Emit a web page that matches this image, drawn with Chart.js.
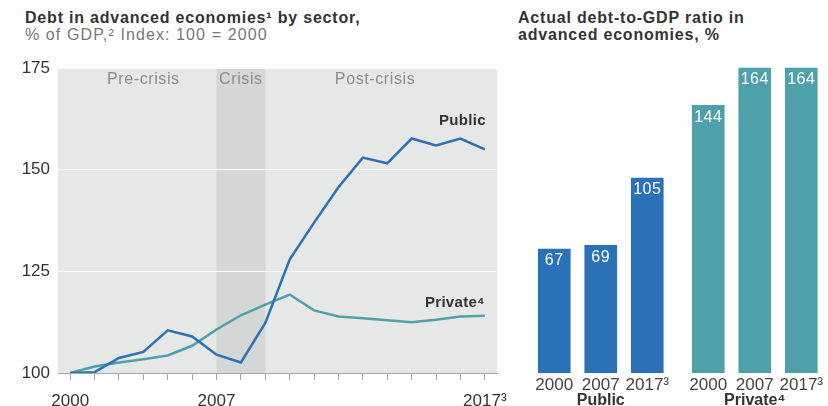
<!DOCTYPE html>
<html>
<head>
<meta charset="utf-8">
<script src="https://cdn.jsdelivr.net/npm/chart.js@4/dist/chart.umd.min.js"></script>
<style>
  html, body { margin: 0; padding: 0; background: #fff; width: 828px; height: 406px; overflow: hidden; }
  body { position: relative; font-family: "Liberation Sans", Arial, sans-serif; }
  .title { position: absolute; font-size: 16px; line-height: 17px; color: #333; letter-spacing: 0.8px; }
  .title b { font-weight: bold; }
  .title .sub { color: #777; letter-spacing: 1.1px; }
  canvas { position: absolute; }
</style>
</head>
<body>
<div class="title" style="left:25px; top:9px;"><b>Debt in advanced economies¹ by sector,</b><br><span class="sub">% of GDP,² Index: 100 = 2000</span></div>
<div class="title" style="left:518px; top:9px;"><b>Actual debt-to-GDP ratio in<br>advanced economies, %</b></div>

<canvas id="lineChart" width="508" height="358" style="left:0; top:50px;"></canvas>
<canvas id="publicBars" width="140" height="360" style="left:531px; top:50px;"></canvas>
<canvas id="privateBars" width="140" height="360" style="left:685px; top:50px;"></canvas>

<script>
// index, 100 = 2000 (one point per yearly tick, 18 ticks)
const years = ['2000', '2001', '2002', '2003', '2004', '2005', '2006', '2007', '2008',
  '2009', '2010', '2011', '2012', '2013', '2014', '2015', '2016', '2017'];
// labels as they sit on the reference ticks
const xTickLabels = ['2000', '', '', '', '', '', '2007', '', '', '', '', '', '', '', '', '', '', '2017³'];
const publicIndex = [100, 100.2, 103.7, 105.2, 110.5, 109, 104.5, 102.6, 112.3,
  127.9, 137, 145.7, 153, 151.6, 157.7, 156, 157.7, 155];
const privateIndex = [100, 101.6, 102.6, 103.4, 104.3, 106.7, 110.7, 114.2, 116.8,
  119.3, 115.4, 113.9, 113.5, 113, 112.5, 113.1, 113.9, 114.1];
const yTicks = [100, 125, 150, 175];

// periods shaded / labelled on the line chart, as tick indexes
const periods = [
  { label: 'Pre-crisis', from: 0, to: 6, shade: false },
  { label: 'Crisis', from: 6, to: 8, shade: true },
  { label: 'Post-crisis', from: 8, to: 17, shade: false },
];

// actual debt-to-GDP, %
const barYears = ['2000', '2007', '2017³'];
const publicDebt = [67, 69, 105];
const privateDebt = [144, 164, 164];

const BLUE = '#2b71b8';
const TEAL = '#4ea1ab';
const FONT = '"Liberation Sans", Arial, sans-serif';

const backdrop = {
  id: 'backdrop',
  beforeDraw(chart) {
    const { ctx, chartArea: a, scales: { x } } = chart;
    ctx.save();
    ctx.fillStyle = '#e6e7e7';
    ctx.fillRect(a.left, a.top, a.right - a.left, a.bottom - a.top);
    ctx.fillStyle = '#d5d6d6';
    periods.filter(p => p.shade).forEach(p => {
      const x0 = x.getPixelForValue(p.from);
      const x1 = x.getPixelForValue(p.to);
      ctx.fillRect(x0, a.top, x1 - x0, a.bottom - a.top);
    });
    ctx.restore();
  },
  afterDraw(chart) {
    const { ctx, chartArea: a, scales: { x } } = chart;
    ctx.save();
    ctx.font = '16px ' + FONT;
    ctx.letterSpacing = '0.6px';
    ctx.fillStyle = '#8c8d8d';
    ctx.textAlign = 'center';
    ctx.textBaseline = 'middle';
    periods.forEach(p => {
      const x0 = x.getPixelForValue(p.from);
      const x1 = x.getPixelForValue(p.to);
      ctx.fillText(p.label, (x0 + x1) / 2, a.top + 11);
    });
    // series names next to last points
    ctx.font = 'bold 15px ' + FONT;
    ctx.letterSpacing = '0.3px';
    ctx.fillStyle = '#333';
    ctx.textAlign = 'right';
    const pub = chart.getDatasetMeta(0).data.at(-1);
    const prv = chart.getDatasetMeta(1).data.at(-1);
    ctx.fillText('Public', pub.x + 1, pub.y - 29);
    ctx.fillText('Private⁴', prv.x, prv.y - 13);
    ctx.restore();
  }
};

new Chart(document.getElementById('lineChart'), {
  type: 'line',
  data: {
    labels: years,
    datasets: [
      { label: 'Public', data: publicIndex, borderColor: BLUE, borderWidth: 2.5, pointRadius: 0, tension: 0 },
      { label: 'Private', data: privateIndex, borderColor: TEAL, borderWidth: 2.5, pointRadius: 0, tension: 0 },
    ],
  },
  options: {
    responsive: false,
    animation: false,
    layout: { padding: { top: 17, right: 11, left: 0, bottom: 0 } },
    plugins: { legend: { display: false }, tooltip: { enabled: false } },
    scales: {
      x: {
        type: 'category',
        offset: true,
        afterFit: s => { s.height = 35; s.paddingLeft = 0; s.paddingRight = 0; },
        border: { color: '#a4a5a5', width: 1 },
        grid: { display: true, drawOnChartArea: false, tickLength: 7, color: '#a4a5a5', offset: false },
        ticks: {
          autoSkip: false, maxRotation: 0, padding: 11, color: '#333',
          font: { family: FONT, size: 17 },
          callback: (v, i) => xTickLabels[i],
        },
      },
      y: {
        min: yTicks[0],
        max: yTicks[yTicks.length - 1],
        afterFit: s => { s.width = 58; },
        afterBuildTicks: s => { s.ticks = yTicks.map(v => ({ value: v })); },
        border: { display: false },
        grid: { color: '#fafafa', lineWidth: 1, drawTicks: false },
        ticks: { padding: 8, color: '#333', font: { family: FONT, size: 17 } },
      },
    },
  },
  plugins: [backdrop],
});

const barLabels = {
  id: 'barLabels',
  afterDatasetsDraw(chart) {
    const { ctx } = chart;
    ctx.save();
    ctx.font = '16px ' + FONT;
    ctx.letterSpacing = '0.5px';
    ctx.fillStyle = '#fff';
    ctx.textAlign = 'center';
    ctx.textBaseline = 'middle';
    const ds = chart.data.datasets[0];
    chart.getDatasetMeta(0).data.forEach((bar, i) => {
      ctx.fillText(ds.data[i], bar.x, bar.y + 13);
    });
    ctx.restore();
  }
};

function barChart(id, values, color, groupTitle) {
  return new Chart(document.getElementById(id), {
    type: 'bar',
    data: {
      labels: barYears,
      datasets: [{ data: values, backgroundColor: color, borderColor: 'rgba(255,255,255,0.35)', borderWidth: 1, barThickness: 34 }],
    },
    options: {
      responsive: false,
      animation: false,
      layout: { padding: { top: 17, left: 0, right: 0, bottom: 0 } },
      plugins: { legend: { display: false }, tooltip: { enabled: false } },
      scales: {
        x: {
          afterFit: s => { s.height = 37; },
          border: { display: false },
          grid: { display: false, drawTicks: false },
          ticks: { padding: 2, color: '#444', font: { family: FONT, size: 17 }, maxRotation: 0, autoSkip: false },
          title: { display: true, text: groupTitle, color: '#333', font: { family: FONT, size: 16, weight: 'bold' }, padding: 0 },
        },
        y: {
          display: false,
          min: 0,
          max: Math.max(...publicDebt, ...privateDebt),
        },
      },
    },
    plugins: [barLabels],
  });
}

barChart('publicBars', publicDebt, BLUE, 'Public');
barChart('privateBars', privateDebt, TEAL, 'Private⁴');
</script>
</body>
</html>
